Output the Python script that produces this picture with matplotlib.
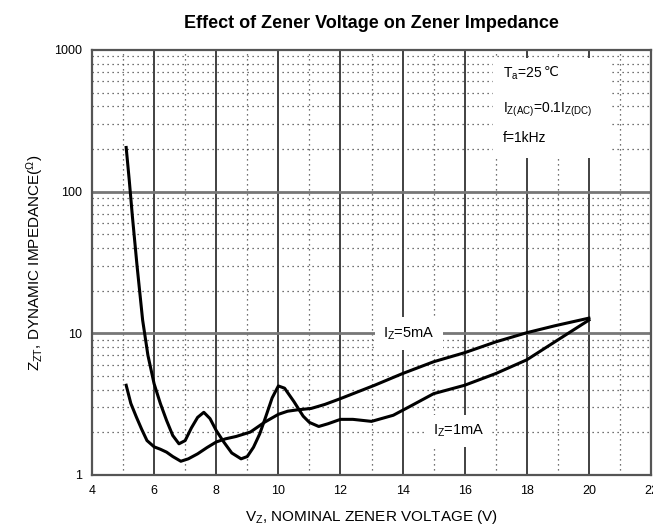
import matplotlib
matplotlib.use("Agg")
import matplotlib.pyplot as plt
from matplotlib.patches import Rectangle
from matplotlib.ticker import FixedLocator, FixedFormatter, NullFormatter

plt.rcParams['font.family'] = ['Liberation Sans', 'DejaVu Sans']
plt.rcParams['mathtext.fontset'] = 'custom'
plt.rcParams['mathtext.rm'] = 'Liberation Sans'
plt.rcParams['mathtext.it'] = 'Liberation Sans'

# Iz = 1mA curve
vz_1ma = [5.1, 5.2, 5.3, 5.45, 5.63, 5.8, 6.0, 6.2, 6.4, 6.6, 6.8, 7.0, 7.2, 7.4, 7.6,
          7.8, 8.0, 8.25, 8.5, 8.8, 9.0, 9.2, 9.4, 9.6, 9.8, 10.0, 10.2, 10.5, 10.8,
          11.0, 11.3, 11.6, 12.0, 12.4, 13.0, 13.7, 14.3, 15.0, 16.0, 17.0, 18.0,
          18.9, 20.0]
zz_1ma = [205, 120, 67, 30, 12.4, 7.0, 4.4, 3.2, 2.43, 1.9, 1.66, 1.75, 2.15, 2.55, 2.77,
          2.5, 2.06, 1.7, 1.43, 1.30, 1.35, 1.57, 1.95, 2.6, 3.5, 4.25, 4.1, 3.3, 2.6,
          2.35, 2.2, 2.3, 2.47, 2.47, 2.39, 2.64, 3.1, 3.75, 4.3, 5.2, 6.5,
          8.7, 12.4]

# Iz = 5mA curve
vz_5ma = [5.1, 5.25, 5.43, 5.6, 5.77, 6.0, 6.2, 6.4, 6.6, 6.86, 7.1, 7.4, 7.7, 8.0,
          8.3, 8.64, 9.1, 9.56, 10.0, 10.3, 10.6, 11.06, 11.5, 12.0, 13.1, 14.0,
          15.0, 16.0, 17.0, 18.0, 18.9, 20.0]
zz_5ma = [4.3, 3.2, 2.56, 2.1, 1.75, 1.58, 1.52, 1.45, 1.35, 1.25, 1.3, 1.41, 1.56, 1.71,
          1.8, 1.87, 2.01, 2.36, 2.68, 2.82, 2.88, 2.95, 3.15, 3.46, 4.3, 5.2,
          6.3, 7.3, 8.7, 10.1, 11.3, 12.8]

x_major = [4, 6, 8, 10, 12, 14, 16, 18, 20, 22]
x_minor = [5, 7, 9, 11, 13, 15, 17, 19, 21]
y_major = [1, 10, 100, 1000]
y_labels = ['1', '10', '100', '1000']
y_minor = [m * d for d in (1, 10, 100) for m in range(2, 10)]

fig = plt.figure(figsize=(6.53, 5.30), dpi=100)
ax = fig.add_axes([0.1409, 0.1038, 0.8561, 0.8019])

ax.set_yscale('log')
ax.set_xlim(4, 22)
ax.set_ylim(1, 1000)

ax.xaxis.set_major_locator(FixedLocator(x_major))
ax.xaxis.set_minor_locator(FixedLocator(x_minor))
ax.yaxis.set_major_locator(FixedLocator(y_major))
ax.yaxis.set_major_formatter(FixedFormatter(y_labels))
ax.yaxis.set_minor_locator(FixedLocator(y_minor))
ax.yaxis.set_minor_formatter(NullFormatter())

ax.grid(False)
# grid lines
for xv in x_major[1:-1]:
    ax.axvline(xv, color='#333333', lw=1.3, zorder=1)
for xv in x_minor:
    ax.axvline(xv, color='#444444', lw=0.9, ls=(0, (1, 3)), zorder=1)
for yv in y_major[1:-1]:
    ax.axhline(yv, color='#777777', lw=2.0, zorder=1)
for yv in y_minor:
    ax.axhline(yv, color='#444444', lw=0.9, ls=(0, (1, 3)), zorder=1)

ax.tick_params(which='both', direction='in', length=0, labelsize=9, pad=7)
for s in ax.spines.values():
    s.set_color('#555555')
    s.set_linewidth(1.6)

ax.plot(vz_1ma, zz_1ma, color='black', lw=2.2, zorder=5)
ax.plot(vz_5ma, zz_5ma, color='black', lw=2.2, zorder=5)

bb = dict(boxstyle='square,pad=0.55', facecolor='white', edgecolor='none')
ax.text(14.2, 10, r'I$_{\mathrm{Z}}$=5mA', fontsize=10.5, ha='center', va='center',
        bbox=bb, zorder=3)
ax.text(15.8, 2.05, r'I$_{\mathrm{Z}}$=1mA', fontsize=10.5, ha='center', va='center',
        bbox=bb, zorder=3)

# condition box
ax.add_patch(Rectangle((0.717, 0.746), 0.211, 0.235, transform=ax.transAxes,
                       facecolor='white', edgecolor='none', zorder=3))
t1 = ax.text(0.735, 0.935, r'T$_{\mathrm{a}}$=25', transform=ax.transAxes, fontsize=10,
             va='baseline', zorder=4)
ax.annotate('℃', xy=(1, 0), xycoords=t1, xytext=(1, 2.5), textcoords='offset points',
            fontsize=9.5, family='DejaVu Sans', va='bottom', zorder=4)
ax.text(0.735, 0.858, r'I$_{\mathrm{Z(AC)}}$=0.1I$_{\mathrm{Z(DC)}}$', transform=ax.transAxes,
        fontsize=10, va='center', zorder=4)
ax.text(0.735, 0.792, 'f=1kHz', transform=ax.transAxes, fontsize=10, va='center', zorder=4)

ax.set_title('Effect of Zener Voltage on Zener Impedance', fontsize=13, fontweight='bold',
             pad=16)
ax.set_xlabel(r'V$_{\mathrm{Z}}$, NOMINAL ZENER VOLTAGE (V)', fontsize=11, labelpad=8)
ax.set_ylabel(r'Z$_{\mathrm{ZT}}$, DYNAMIC IMPEDANCE($^{\Omega}$)', fontsize=11, labelpad=6)

fig.savefig('out.png', dpi=100)
